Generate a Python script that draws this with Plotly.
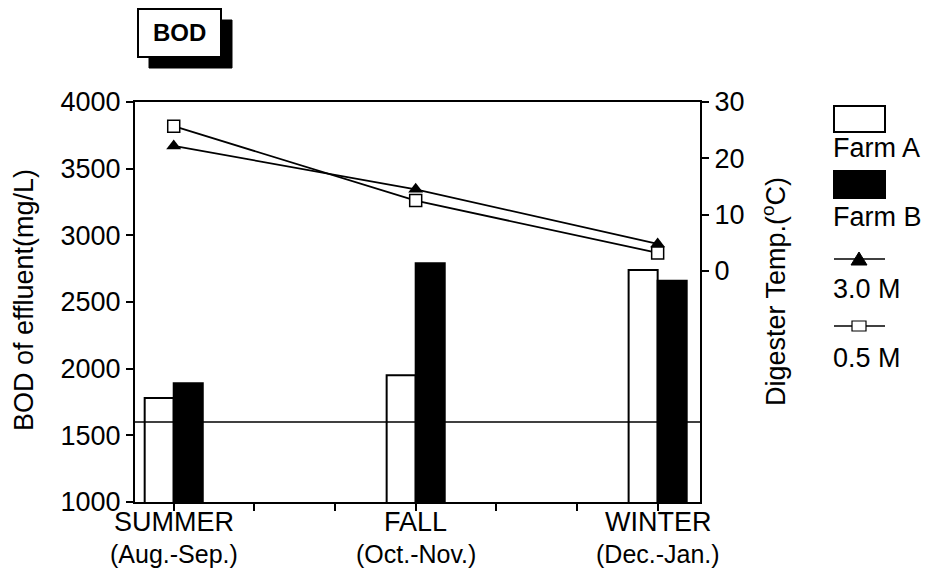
import plotly.graph_objects as go

# ---- data ----
season_names = ["SUMMER", "FALL", "WINTER"]
season_months = ["(Aug.-Sep.)", "(Oct.-Nov.)", "(Dec.-Jan.)"]
season_pos = [0, 1, 2]
farm_a_bod = [1780, 1950, 2740]
farm_b_bod = [1890, 2790, 2660]
temp_3m = [22.2, 14.5, 4.8]
temp_05m = [25.7, 12.5, 3.2]
ref_bod = 1600
left_ticks = [1000, 1500, 2000, 2500, 3000, 3500, 4000]
right_ticks = [0, 10, 20, 30]

OFF = 8  # page body margin
W, H = 933, 574
L, R, T, B = 135, 700, 102, 502  # target screen pixels
FONT = "Liberation Sans, Arial, Helvetica, sans-serif"
FS = 27


def px(x):
    return (x - L) / (R - L)


def py(y):
    return (B - y) / (B - T)


fig = go.Figure()
fig.add_trace(go.Bar(x=season_pos, y=farm_a_bod, name="Farm A",
                     marker=dict(color="white", line=dict(color="black", width=2))))
fig.add_trace(go.Bar(x=season_pos, y=farm_b_bod, name="Farm B",
                     marker=dict(color="black", line=dict(color="black", width=2))))
fig.add_trace(go.Scatter(x=season_pos, y=temp_3m, yaxis="y2", mode="lines+markers", name="3.0 M",
                         line=dict(color="black", width=1.8),
                         marker=dict(symbol="triangle-up", size=13, color="black")))
fig.add_trace(go.Scatter(x=season_pos, y=temp_05m, yaxis="y2", mode="lines+markers", name="0.5 M",
                         line=dict(color="black", width=1.8),
                         marker=dict(symbol="square", size=12, color="white",
                                     line=dict(color="black", width=1.5))))

minor = [0, 1/3, 2/3, 1, 4/3, 5/3, 2]

shapes = []
shapes.append(dict(type="line", xref="paper", yref="y", x0=0, x1=1, y0=ref_bod, y1=ref_bod,
                   line=dict(color="black", width=1.5), layer="above"))
# title box with shadow
shapes.append(dict(type="rect", xref="paper", yref="paper", x0=px(149), x1=px(232), y0=py(20), y1=py(68),
                   fillcolor="black", line=dict(color="black", width=1)))
shapes.append(dict(type="rect", xref="paper", yref="paper", x0=px(138), x1=px(221), y0=py(9), y1=py(57),
                   fillcolor="white", line=dict(color="black", width=2)))
# legend
shapes.append(dict(type="rect", xref="paper", yref="paper", x0=px(834), x1=px(885), y0=py(106), y1=py(132),
                   fillcolor="white", line=dict(color="black", width=2)))
shapes.append(dict(type="rect", xref="paper", yref="paper", x0=px(834), x1=px(885), y0=py(171), y1=py(198),
                   fillcolor="black", line=dict(color="black", width=2)))
shapes.append(dict(type="line", xref="paper", yref="paper", x0=px(834), x1=px(885), y0=py(259), y1=py(259),
                   line=dict(color="black", width=1.5)))
shapes.append(dict(type="path", xref="paper", yref="paper",
                   path=f"M {px(851)} {py(265)} L {px(867)} {py(265)} L {px(859)} {py(252)} Z",
                   fillcolor="black", line=dict(color="black", width=1)))
shapes.append(dict(type="line", xref="paper", yref="paper", x0=px(834), x1=px(885), y0=py(326), y1=py(326),
                   line=dict(color="black", width=1.5)))
shapes.append(dict(type="rect", xref="paper", yref="paper", x0=px(852), x1=px(866), y0=py(321), y1=py(331),
                   fillcolor="white", line=dict(color="black", width=1.2)))

ann = []
ann.append(dict(text="<b>BOD</b>", x=px(179), y=py(33), xref="paper", yref="paper", showarrow=False,
                xanchor="center", yanchor="middle",
                font=dict(size=24, color="black", family=FONT)))
for txt, yy in [("Farm A", 148), ("Farm B", 217), ("3.0 M", 289), ("0.5 M", 358)]:
    ann.append(dict(text=txt, x=px(831), y=py(yy), xref="paper", yref="paper", showarrow=False,
                    xanchor="left", yanchor="middle", font=dict(size=FS, color="black", family=FONT)))
for xp, nm, mo in zip(season_pos, season_names, season_months):
    ann.append(dict(text=nm, x=xp, y=py(522), xref="x", yref="paper", showarrow=False,
                    xanchor="center", yanchor="middle", font=dict(size=FS, color="black", family=FONT)))
    ann.append(dict(text=mo, x=xp, y=py(554), xref="x", yref="paper", showarrow=False,
                    xanchor="center", yanchor="middle", font=dict(size=FS - 2, color="black", family=FONT)))
ann.append(dict(text="BOD of effluent(mg/L)", x=px(24), y=py(300), xref="paper", yref="paper",
                showarrow=False, textangle=-90, xanchor="center", yanchor="middle",
                font=dict(size=FS, color="black", family=FONT)))
ann.append(dict(text="Digester Temp.(<sup>o</sup>C)", x=px(774), y=py(292), xref="paper", yref="paper",
                showarrow=False, textangle=-90, xanchor="center", yanchor="middle",
                font=dict(size=FS, color="black", family=FONT)))

fig.update_layout(
    width=W, height=H,
    margin=dict(l=L - OFF, r=W - R + OFF, t=T - OFF, b=H - B + OFF, autoexpand=False),
    template="none",
    paper_bgcolor="white", plot_bgcolor="white",
    showlegend=False,
    barmode="group", bargap=0.76, bargroupgap=0,
    font=dict(family=FONT, size=FS, color="black"),
    xaxis=dict(range=[-0.16, 2.175], tickvals=minor, showticklabels=False, ticks="outside",
               ticklen=7, tickwidth=1.5, tickcolor="black", showline=True, linecolor="black",
               linewidth=2, mirror=True, showgrid=False, zeroline=False, automargin=False),
    yaxis=dict(range=[1000, 4000], tickvals=left_ticks, ticks="outside", ticklen=7, tickwidth=1.5,
               tickcolor="black", showline=True, linecolor="black", linewidth=2, showgrid=False,
               zeroline=False, automargin=False, tickfont=dict(size=FS)),
    yaxis2=dict(range=[-41, 30], overlaying="y", side="right", tickvals=right_ticks, ticks="outside",
                ticklen=7, tickwidth=1.5, tickcolor="black", showline=True, linecolor="black",
                linewidth=2, showgrid=False, zeroline=False, automargin=False,
                tickfont=dict(size=FS)),
    shapes=shapes,
    annotations=ann,
)

fig.write_html("out.html")
